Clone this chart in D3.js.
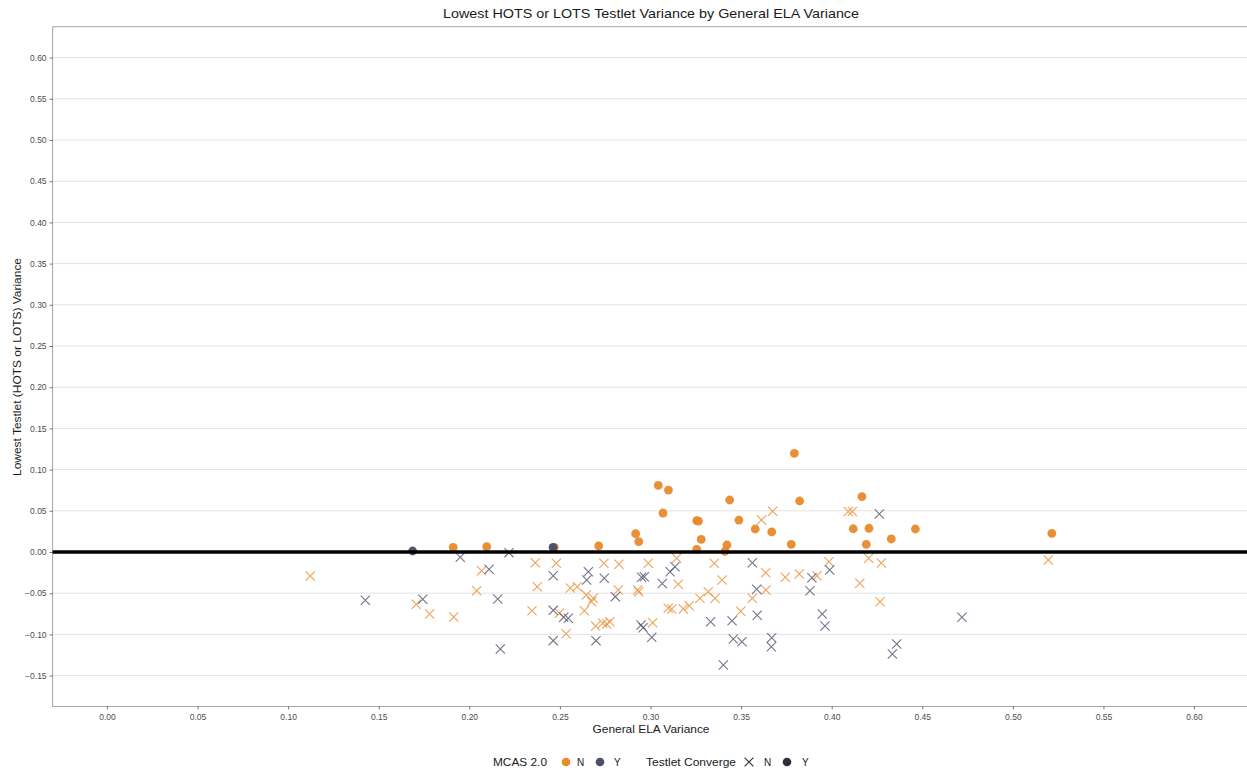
<!DOCTYPE html>
<html>
<head>
<meta charset="utf-8">
<script src="https://cdn.jsdelivr.net/npm/d3@7"></script>
<style>
  html, body { margin: 0; padding: 0; background: #fff; }
  svg { display: block; font-family: "Liberation Sans", Arial, sans-serif; }
</style>
</head>
<body>
<svg id="chart" width="1247" height="772"></svg>
<script>
// Axis ticks
const xTicks = [0, 0.05, 0.10, 0.15, 0.20, 0.25, 0.30, 0.35, 0.40, 0.45, 0.50, 0.55, 0.60];
const yTicks = [-0.15, -0.10, -0.05, 0, 0.05, 0.10, 0.15, 0.20, 0.25, 0.30, 0.35, 0.40, 0.45, 0.50, 0.55, 0.60];

// Testlets that converged, MCAS 2.0 = N  [general ELA variance, lowest testlet variance]
const convergedN = [
  [0.1911, 0.0057], [0.2096, 0.0064], [0.2469, 0.0057], [0.2714, 0.0073],
  [0.2918, 0.0222], [0.2935, 0.0125], [0.3043, 0.0809], [0.3069, 0.0473],
  [0.3099, 0.0752], [0.3255, 0.0380], [0.3265, 0.0375], [0.3280, 0.0154],
  [0.3255, 0.0033], [0.3411, 0.0008], [0.3422, 0.0085], [0.3437, 0.0631],
  [0.3488, 0.0388], [0.3578, 0.0279], [0.3669, 0.0243], [0.3777, 0.0093],
  [0.3794, 0.1198], [0.3823, 0.0619], [0.4119, 0.0282], [0.4167, 0.0671],
  [0.4191, 0.0093], [0.4206, 0.0288], [0.4329, 0.0158], [0.4462, 0.0279],
  [0.5215, 0.0225]
];

// Testlets that converged, MCAS 2.0 = Y
const convergedY = [
  [0.1687, 0.0012], [0.2462, 0.0057]
];

// Testlets that did not converge, MCAS 2.0 = N
const nonConvergedN = [
  [0.1122, -0.0291], [0.1707, -0.0635], [0.1781, -0.0752], [0.1914, -0.0789],
  [0.2041, -0.0470], [0.2068, -0.0227], [0.2346, -0.0712], [0.2364, -0.0130],
  [0.2375, -0.0421], [0.2480, -0.0137], [0.2497, -0.0744], [0.2534, -0.0992],
  [0.2557, -0.0437], [0.2596, -0.0421], [0.2635, -0.0712], [0.2646, -0.0522],
  [0.2684, -0.0562], [0.2675, -0.0603], [0.2697, -0.0898], [0.2736, -0.0865],
  [0.2758, -0.0874], [0.2776, -0.0846], [0.2743, -0.0137], [0.2822, -0.0461],
  [0.2826, -0.0149], [0.2929, -0.0461], [0.2935, -0.0482], [0.2988, -0.0137],
  [0.3012, -0.0858], [0.3098, -0.0683], [0.3117, -0.0692], [0.3145, -0.0076],
  [0.3153, -0.0392], [0.3181, -0.0692], [0.3214, -0.0652], [0.3273, -0.0562],
  [0.3319, -0.0482], [0.3356, -0.0562], [0.3352, -0.0137], [0.3395, -0.0340],
  [0.3498, -0.0720], [0.3562, -0.0562], [0.3636, -0.0251], [0.3637, -0.0461],
  [0.3744, -0.0307], [0.3821, -0.0267], [0.3919, -0.0288], [0.3985, -0.0118],
  [0.4155, -0.0380], [0.4204, -0.0076], [0.4274, -0.0133], [0.4267, -0.0603],
  [0.5196, -0.0097], [0.3613, 0.0388], [0.3674, 0.0494], [0.4092, 0.0492],
  [0.4114, 0.0492]
];

// Testlets that did not converge, MCAS 2.0 = Y
const nonConvergedY = [
  [0.1426, -0.0586], [0.1743, -0.0574], [0.1950, -0.0064], [0.2109, -0.0210],
  [0.2157, -0.0570], [0.2171, -0.1177], [0.2219, -0.0008], [0.2463, -0.0288],
  [0.2463, -0.0708], [0.2463, -0.1076], [0.2521, -0.0792], [0.2546, -0.0805],
  [0.2648, -0.0340], [0.2657, -0.0239], [0.2699, -0.1076], [0.2745, -0.0319],
  [0.2806, -0.0542], [0.2948, -0.0886], [0.2959, -0.0919], [0.2951, -0.0307],
  [0.2966, -0.0300], [0.3007, -0.1035], [0.3065, -0.0382], [0.3108, -0.0239],
  [0.3135, -0.0178], [0.3332, -0.0846], [0.3402, -0.1371], [0.3450, -0.0834],
  [0.3457, -0.1056], [0.3505, -0.1089], [0.3562, -0.0130], [0.3586, -0.0453],
  [0.3589, -0.0768], [0.3669, -0.1040], [0.3667, -0.1149], [0.3880, -0.0470],
  [0.3891, -0.0312], [0.3948, -0.0752], [0.3963, -0.0898], [0.3989, -0.0218],
  [0.4263, 0.0461], [0.4335, -0.1238], [0.4359, -0.1117], [0.4719, -0.0792]
];

const colorN = "#E8892C";
const colorY = "#4A4E69";
const colorConv = "#2E2E38";

const svg = d3.select("#chart");
const panel = { left: 52.6, right: 1248.4, top: 26.7, bottom: 706.5 };

const x = d3.scaleLinear().domain([-0.03, 0.63]).range([panel.left, panel.right]);
const y = d3.scaleLinear().domain([-0.1875, 0.6375]).range([panel.bottom, panel.top]);

// Title
svg.append("text")
  .attr("x", 651).attr("y", 18)
  .attr("text-anchor", "middle")
  .attr("font-size", 13.5).attr("fill", "#1a1a1a")
  .attr("textLength", 416).attr("lengthAdjust", "spacingAndGlyphs")
  .text("Lowest HOTS or LOTS Testlet Variance by General ELA Variance");

// Panel background
svg.append("rect")
  .attr("x", panel.left).attr("y", panel.top)
  .attr("width", panel.right - panel.left).attr("height", panel.bottom - panel.top)
  .attr("fill", "#fff");

// Horizontal grid lines
svg.append("g").selectAll("line").data(yTicks).join("line")
  .attr("x1", panel.left).attr("x2", panel.right)
  .attr("y1", d => y(d)).attr("y2", d => y(d))
  .attr("stroke", "#e3e3e3").attr("stroke-width", 1);

// Panel border
svg.append("rect")
  .attr("x", panel.left).attr("y", panel.top)
  .attr("width", panel.right - panel.left).attr("height", panel.bottom - panel.top)
  .attr("fill", "none").attr("stroke", "#a6a6a6").attr("stroke-width", 1);

// Axes
const xAxis = d3.axisBottom(x).tickValues(xTicks).tickFormat(d3.format(".2f")).tickSize(3).tickPadding(4);
const yAxis = d3.axisLeft(y).tickValues(yTicks).tickFormat(d3.format(".2f")).tickSize(3).tickPadding(3);

const gx = svg.append("g").attr("transform", `translate(0,${panel.bottom})`).call(xAxis);
const gy = svg.append("g").attr("transform", `translate(${panel.left},0)`).call(yAxis);
[gx, gy].forEach(g => {
  g.select(".domain").remove();
  g.selectAll(".tick line").attr("stroke", "#555").attr("stroke-width", 0.8);
  g.selectAll(".tick text").attr("fill", "#4d4d4d").attr("font-size", 8.5)
    .attr("font-family", "'Liberation Sans', Arial, sans-serif");
});

// Axis titles
svg.append("text")
  .attr("x", 651).attr("y", 733)
  .attr("text-anchor", "middle").attr("font-size", 11).attr("fill", "#1a1a1a")
  .attr("textLength", 117).attr("lengthAdjust", "spacingAndGlyphs")
  .text("General ELA Variance");

svg.append("text")
  .attr("transform", "translate(21,367) rotate(-90)")
  .attr("text-anchor", "middle").attr("font-size", 11).attr("fill", "#1a1a1a")
  .attr("textLength", 218).attr("lengthAdjust", "spacingAndGlyphs")
  .text("Lowest Testlet (HOTS or LOTS) Variance");

// Marks
const plot = svg.append("g");
const crossPath = (cx, cy, s) =>
  `M${cx - s},${cy - s}L${cx + s},${cy + s}M${cx - s},${cy + s}L${cx + s},${cy - s}`;

function drawCrosses(data, color) {
  plot.append("g").selectAll("path").data(data).join("path")
    .attr("d", d => crossPath(x(d[0]), y(d[1]), 4.6))
    .attr("stroke", color).attr("stroke-width", 1.1)
    .attr("stroke-opacity", 0.78).attr("fill", "none");
}
function drawDots(data, color) {
  plot.append("g").selectAll("circle").data(data).join("circle")
    .attr("cx", d => x(d[0])).attr("cy", d => y(d[1]))
    .attr("r", 4.4).attr("fill", color).attr("fill-opacity", 0.95);
}

drawCrosses(nonConvergedN, colorN);
drawCrosses(nonConvergedY, colorY);
drawDots(convergedN, colorN);
drawDots(convergedY, colorY);

// Zero reference line
svg.append("line")
  .attr("x1", panel.left).attr("x2", panel.right)
  .attr("y1", y(0)).attr("y2", y(0))
  .attr("stroke", "#000").attr("stroke-width", 3.5);

// Legend
const legend = svg.append("g").attr("font-size", 11).attr("fill", "#1a1a1a");
const ly = 762;
legend.append("text").attr("x", 493).attr("y", ly + 4).attr("textLength", 54)
  .attr("lengthAdjust", "spacingAndGlyphs").text("MCAS 2.0");
legend.append("circle").attr("cx", 566).attr("cy", ly).attr("r", 4.3).attr("fill", colorN);
legend.append("text").attr("x", 577).attr("y", ly + 4).attr("font-size", 10).text("N");
legend.append("circle").attr("cx", 600).attr("cy", ly).attr("r", 4.3).attr("fill", colorY);
legend.append("text").attr("x", 614).attr("y", ly + 4).attr("font-size", 10).text("Y");
legend.append("text").attr("x", 646).attr("y", ly + 4).attr("textLength", 90)
  .attr("lengthAdjust", "spacingAndGlyphs").text("Testlet Converge");
legend.append("path").attr("d", crossPath(749, ly, 4.4))
  .attr("stroke", colorConv).attr("stroke-width", 1.1).attr("fill", "none");
legend.append("text").attr("x", 764).attr("y", ly + 4).attr("font-size", 10).text("N");
legend.append("circle").attr("cx", 787).attr("cy", ly).attr("r", 4.3).attr("fill", colorConv);
legend.append("text").attr("x", 802).attr("y", ly + 4).attr("font-size", 10).text("Y");
</script>
</body>
</html>
